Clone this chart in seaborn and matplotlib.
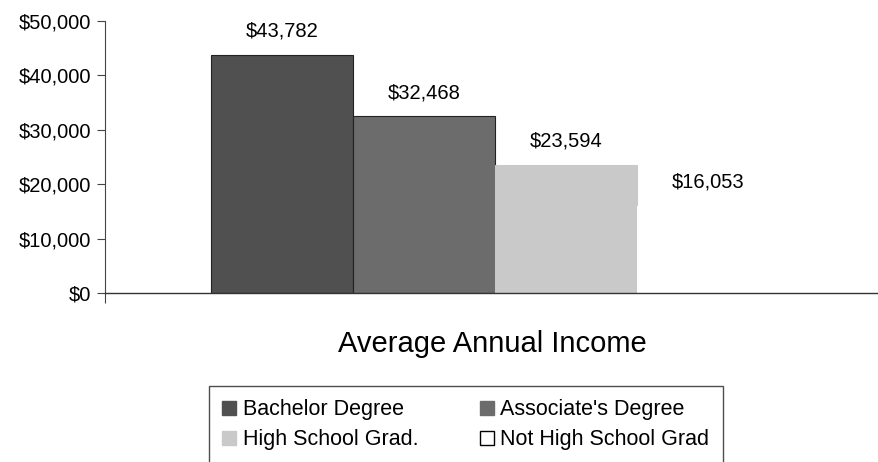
import matplotlib
matplotlib.use("Agg")
import matplotlib.pyplot as plt
from matplotlib.patches import Patch
from matplotlib.ticker import FuncFormatter
import seaborn as sns
import pandas as pd

# Average annual income by education level
category = ["Average Annual Income"]
levels = ["Bachelor Degree", "Associate's Degree", "High School Grad.", "Not High School Grad"]
incomes = [43782, 32468, 23594, 16053]
fills = ["#505050", "#6c6c6c", "#c9c9c9", "#ffffff"]
outlines = ["#222222", "#222222", "#c9c9c9", "none"]
y_ticks = [0, 10000, 20000, 30000, 40000, 50000]

df = pd.DataFrame({
    "group": category * len(levels),
    "level": levels,
    "income": incomes,
})

sns.set_theme(style="white")
plt.rcParams["font.family"] = ["Liberation Sans", "DejaVu Sans"]
plt.rcParams["text.color"] = "black"
plt.rcParams["xtick.color"] = "black"
plt.rcParams["ytick.color"] = "black"

fig = plt.figure(figsize=(8.79, 4.62), dpi=100)
ax = fig.add_axes([0.1195, 0.3658, 0.8805, 0.5887])

sns.barplot(data=df, x="group", y="income", hue="level", hue_order=levels,
            palette=fills, width=0.8, saturation=1, legend=False, ax=ax)

for patch, value, edge in zip(ax.patches, incomes, outlines):
    patch.set_edgecolor(edge)
    patch.set_linewidth(0.8)
    cx = patch.get_x() + patch.get_width() / 2
    ax.annotate(f"${value:,.0f}", xy=(cx, value), xytext=(0, 17),
                textcoords="offset points", ha="center", va="center",
                fontsize=14.5, color="black")

ax.set_ylim(0, 50000)
ax.set_xlim(-0.549, 0.541)
ax.set_yticks(y_ticks)
ax.yaxis.set_major_formatter(FuncFormatter(lambda v, p: f"${v:,.0f}"))
ax.tick_params(axis="y", direction="out", length=6, width=0.8, color="#444444",
               labelcolor="black", labelsize=14.5, pad=4, left=True)
ax.set_xticks([-0.549])
ax.set_xticklabels([""])
ax.tick_params(axis="x", direction="out", length=7, width=0.8, color="#444444", bottom=True)
ax.set_ylabel("")
ax.set_xlabel("Average Annual Income", fontsize=21, labelpad=16, color="black")

for side in ["top", "right"]:
    ax.spines[side].set_visible(False)
ax.spines["left"].set_color("#444444")
ax.spines["left"].set_linewidth(0.8)
ax.spines["bottom"].set_color("#333333")
ax.spines["bottom"].set_linewidth(1.0)
ax.grid(False)

# Legend laid out row by row: matplotlib fills columns first, so interleave
handles = [Patch(facecolor=f, edgecolor="black" if f == "#ffffff" else f, linewidth=1.0)
           for f in fills]
order = [0, 2, 1, 3]
leg = fig.legend([handles[i] for i in order], [levels[i] for i in order], ncol=2,
                 loc="upper left", bbox_to_anchor=(0.2378, 1 - 386 / 462),
                 fontsize=15.5, frameon=True, fancybox=False, edgecolor="#222222",
                 handlelength=0.65, handleheight=0.65, handletextpad=0.3,
                 columnspacing=2.85, borderpad=0.62, labelspacing=0.42, borderaxespad=0)
leg.get_frame().set_linewidth(1.0)

fig.savefig("out.png", dpi=100)
